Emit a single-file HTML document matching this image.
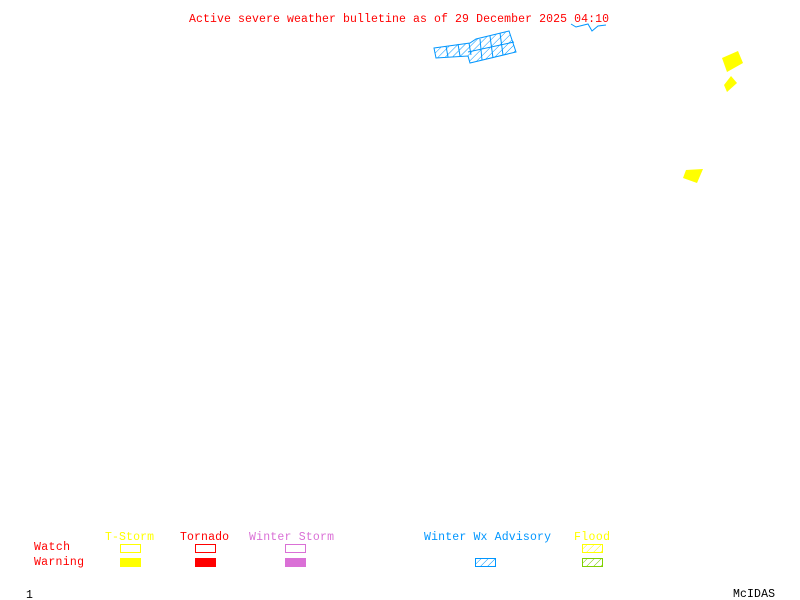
<!DOCTYPE html>
<html><head><style>body{margin:0;background:#fff}svg{display:block}text{font-family:"Liberation Mono",monospace;font-size:11.5px}</style></head>
<body><svg width="800" height="600" xmlns="http://www.w3.org/2000/svg">
<defs>
<pattern id="hb" width="5" height="5" patternUnits="userSpaceOnUse" patternTransform="rotate(45)"><line x1="0" y1="0" x2="0" y2="5" stroke="#0096ff" stroke-width="1"/></pattern>
<pattern id="hg" width="5" height="5" patternUnits="userSpaceOnUse" patternTransform="rotate(45)"><line x1="0" y1="0" x2="0" y2="5" stroke="#7fd000" stroke-width="1"/></pattern>
<pattern id="hy" width="5" height="5" patternUnits="userSpaceOnUse" patternTransform="rotate(45)"><line x1="0" y1="0" x2="0" y2="5" stroke="#ffff00" stroke-width="1"/></pattern>
</defs>
<text x="189" y="22" fill="#ff0000" textLength="420">Active severe weather bulletine as of 29 December 2025 04:10</text>
<polygon points="434,48 470,43 476,39 509,31 516,52 470,63 468,56 436,58" fill="url(#hb)" stroke="#0096ff"/>
<g stroke="#0096ff" fill="none">
<line x1="446" y1="46" x2="448" y2="57"/><line x1="458" y1="44" x2="460" y2="56"/><line x1="469" y1="43" x2="471" y2="55"/>
<line x1="480" y1="39" x2="482" y2="60"/><line x1="490" y1="36" x2="493" y2="58"/><line x1="500" y1="33" x2="503" y2="55"/>
<line x1="468" y1="52" x2="514" y2="42"/>
</g>
<polyline points="571,24 576,27 588,24 592,31 598,26 606,25" fill="none" stroke="#0096ff"/>
<polygon points="722,58 738,51 743,63 727,72" fill="#ffff00"/>
<polygon points="724,85 731,76 737,83 727,92" fill="#ffff00"/>
<polygon points="686,170 703,169 697,183 683,178" fill="#ffff00"/>
<text x="105" y="540" fill="#ffff00" textLength="49">T-Storm</text>
<text x="180" y="540" fill="#ff0000" textLength="49">Tornado</text>
<text x="249" y="540" fill="#da70d6" textLength="85">Winter Storm</text>
<text x="424" y="540" fill="#0096ff" textLength="127">Winter Wx Advisory</text>
<text x="574" y="540" fill="#ffff00" textLength="36">Flood</text>
<text x="34" y="550" fill="#ff0000" textLength="36">Watch</text>
<text x="34" y="565" fill="#ff0000" textLength="50">Warning</text>
<rect x="120.5" y="544.5" width="20" height="8" fill="none" stroke="#ffff00"/>
<rect x="120" y="558" width="21" height="9" fill="#ffff00"/>
<rect x="195.5" y="544.5" width="20" height="8" fill="none" stroke="#ff0000"/>
<rect x="195" y="558" width="21" height="9" fill="#ff0000"/>
<rect x="285.5" y="544.5" width="20" height="8" fill="none" stroke="#da70d6"/>
<rect x="285" y="558" width="21" height="9" fill="#da70d6"/>
<rect x="475.5" y="558.5" width="20" height="8" fill="url(#hb)" stroke="#0096ff"/>
<rect x="582.5" y="544.5" width="20" height="8" fill="url(#hy)" stroke="#ffff00"/>
<rect x="582.5" y="558.5" width="20" height="8" fill="url(#hg)" stroke="#7fd000"/>
<text x="26" y="598" fill="#000" textLength="7">1</text>
<text x="733" y="597" fill="#000" textLength="42">McIDAS</text>
</svg></body></html>
